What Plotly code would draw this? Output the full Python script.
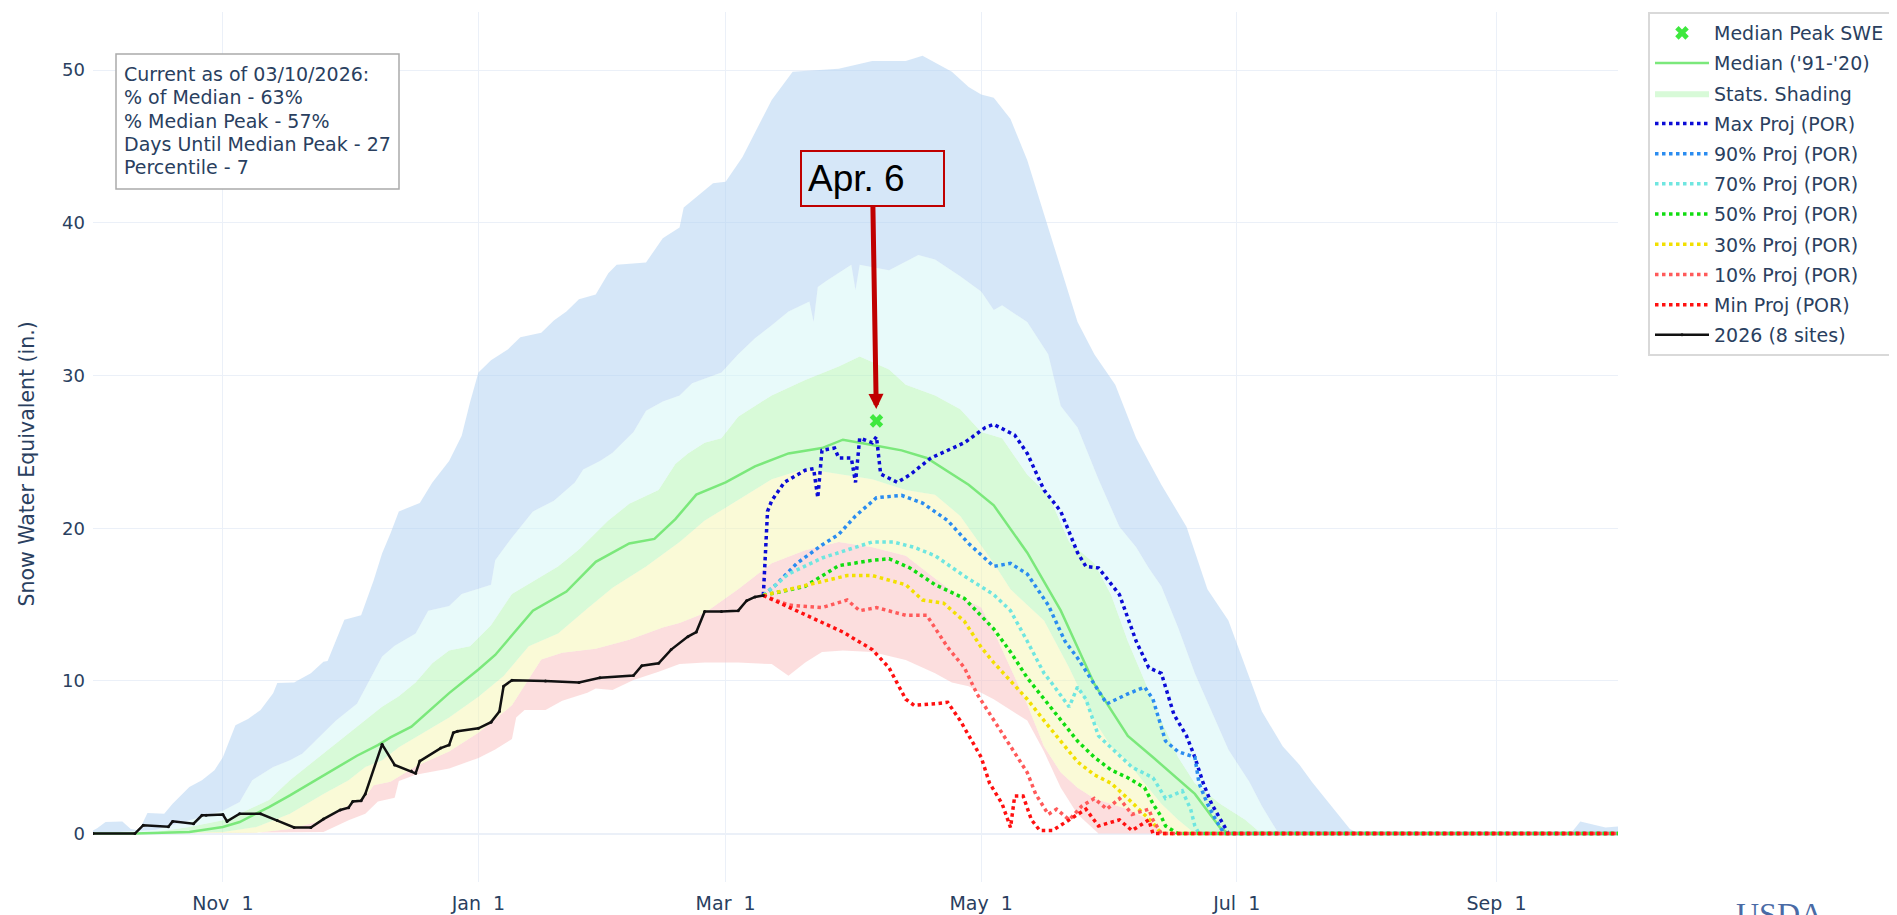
import pandas as pd
import plotly.graph_objects as go

# ---------------- data (day of water year, 0 = Oct 1 2025) ----------------
WY_START = pd.Timestamp("2025-10-01")

obs_day = [0, 10, 12, 18, 19, 24, 26, 27, 31, 32, 35, 40, 44, 48, 52, 55, 59, 61, 62, 64,
           65, 69, 72, 76, 77, 78, 83, 85, 86, 87, 92, 95, 97, 98, 100, 108, 116, 121, 129, 131,
           135, 138, 142, 144, 146, 150, 154, 156, 158, 160]
obs_swe = [0, 0, 0.55, 0.45, 0.8, 0.65, 1.2, 1.2, 1.25, 0.8, 1.3, 1.3, 0.85, 0.4, 0.4, 0.95, 1.55, 1.7, 2.1, 2.15,
           2.6, 5.85, 4.5, 4.1, 3.95, 4.75, 5.6, 5.8, 6.6, 6.7, 6.9, 7.3, 8.0, 9.65, 10.05, 10.0, 9.9, 10.2, 10.35, 11.0,
           11.15, 12.05, 12.9, 13.2, 14.55, 14.55, 14.6, 15.25, 15.5, 15.6]

med_day = [0, 10, 23, 31, 35, 42, 47, 55, 63, 68, 71, 76, 85, 92, 96, 105, 113, 120, 128, 134,
           139, 144, 151, 158, 166, 174, 179, 187, 193, 199, 205, 209, 215, 223, 231, 239, 247, 253, 263, 269,
           271, 364]
med_swe = [0, 0, 0.1, 0.43, 0.76, 1.74, 2.5, 3.8, 5.1, 5.8, 6.3, 7.0, 9.2, 10.75, 11.7, 14.6, 15.85, 17.8, 19.0, 19.3,
           20.6, 22.2, 23.0, 24.05, 24.9, 25.25, 25.8, 25.4, 25.1, 24.6, 23.55, 22.85, 21.5, 18.4, 14.6, 9.8, 6.4, 5.0, 2.6, 0.4,
           0, 0]

max_day = [0, 1, 3, 7, 9, 11, 13, 17, 19, 23, 26, 29, 31, 34, 37, 40, 43, 44, 48, 52,
           55, 56, 60, 64, 67, 69, 71, 73, 78, 81, 85, 88, 90, 92, 95, 99, 102, 107, 110, 113,
           116, 120, 123, 125, 132, 136, 140, 141, 148, 151, 155, 159, 162, 167, 178, 186, 194, 198, 205, 209,
           212, 215, 219, 223, 228, 231, 235, 239, 244, 249, 255, 261, 266, 271, 275, 279, 284, 288, 291, 296,
           300, 302, 352, 353, 355, 361, 364]
max_swe = [0.2, 0.35, 0.76, 0.8, 0.3, 0.2, 1.35, 1.3, 1.96, 3.05, 3.5, 4.15, 5.0, 7.1, 7.5, 8.1, 9.2, 9.87, 9.9, 10.5,
           11.25, 11.3, 14.0, 14.3, 16.6, 18.35, 19.65, 21.1, 21.65, 23.0, 24.4, 26.05, 28.25, 30.2, 31.0, 31.7, 32.5, 32.8, 33.6, 34.2,
           35.0, 35.3, 36.7, 37.25, 37.4, 39.0, 39.7, 41.0, 42.6, 42.7, 44.3, 46.5, 48.05, 49.9, 50.1, 50.6, 50.6, 50.95, 49.9, 48.9,
           48.4, 48.2, 46.8, 44.1, 39.65, 36.9, 33.5, 31.4, 29.4, 25.9, 22.85, 20.1, 16.0, 13.95, 11.0, 8.0, 5.7, 4.5, 3.36, 1.7,
           0.3, 0, 0, 0.1, 0.8, 0.4, 0.47]

p90_day = [0, 15, 23, 31, 35, 38, 43, 47, 50, 55, 58, 63, 65, 69, 72, 77, 80, 85, 88, 95,
           96, 100, 105, 110, 115, 117, 121, 124, 129, 132, 136, 140, 143, 150, 154, 158, 162, 166, 171, 172,
           173, 175, 181, 182, 183, 190, 197, 201, 207, 212, 215, 217, 223, 228, 231, 235, 240, 245, 249, 252,
           255, 259, 263, 267, 271, 276, 279, 283, 364]
p90_swe = [0, 0.25, 0.87, 1.5, 2.07, 3.5, 4.36, 4.8, 5.24, 6.55, 7.4, 8.5, 9.5, 11.6, 12.3, 13.1, 14.6, 14.9, 15.7, 16.3,
           17.9, 19.4, 21.1, 21.8, 23.0, 23.85, 24.4, 24.95, 26.3, 27.7, 28.3, 28.7, 29.5, 30.2, 31.4, 32.45, 33.3, 34.2, 34.85, 33.5,
           35.8, 36.2, 37.25, 35.6, 37.25, 36.9, 37.9, 37.6, 36.5, 35.5, 34.3, 34.6, 33.5, 31.4, 28.0, 26.6, 23.2, 20.1, 18.75, 17.4,
           16.2, 13.5, 10.5, 8.0, 5.5, 3.4, 1.8, 0, 0]

p70_day = [0, 15, 23, 31, 35, 42, 47, 55, 61, 66, 69, 73, 77, 81, 85, 90, 95, 100, 106, 111,
           116, 123, 128, 135, 139, 142, 146, 150, 154, 158, 162, 170, 178, 183, 190, 194, 201, 207, 212, 217,
           223, 228, 233, 239, 243, 247, 251, 255, 259, 263, 269, 275, 278, 364]
p70_swe = [0, 0.1, 0.43, 0.87, 1.3, 2.2, 3.5, 5.24, 6.55, 7.64, 8.3, 9.0, 9.9, 11.15, 12.0, 12.27, 13.65, 15.7, 16.7, 17.5,
           18.6, 20.5, 21.6, 22.5, 24.2, 24.9, 25.6, 25.9, 27.3, 28.0, 28.7, 29.7, 30.6, 31.25, 30.4, 29.4, 28.7, 27.8, 26.3, 25.9,
           23.5, 22.2, 19.1, 17.7, 15.65, 12.6, 10.0, 7.4, 5.0, 3.3, 1.95, 0.9, 0.2, 0]

p30_day = [0, 31, 39, 47, 55, 61, 65, 69, 73, 78, 85, 92, 98, 104, 111, 118, 124, 132, 140, 146,
           154, 162, 170, 178, 186, 194, 201, 207, 215, 219, 227, 233, 239, 243, 247, 251, 255, 259, 263, 364]
p30_swe = [0, 0.1, 0.43, 1.3, 2.6, 3.5, 4.36, 4.8, 5.65, 6.47, 7.6, 8.96, 10.33, 12.27, 13.1, 14.75, 16.1, 17.5, 19.1, 20.5,
           21.85, 23.2, 23.9, 23.55, 23.2, 22.5, 22.2, 20.8, 17.7, 16.0, 13.95, 10.86, 7.4, 5.7, 4.7, 3.3, 1.95, 0.9, 0, 0]

p10_day = [0, 39, 47, 55, 61, 65, 67, 71, 77, 85, 92, 100, 107, 112, 120, 128, 136, 140, 146, 154,
           162, 170, 178, 186, 194, 201, 207, 212, 215, 219, 223, 227, 231, 235, 239, 247, 252, 255, 256, 364]
p10_swe = [0, 0.05, 0.3, 0.87, 1.85, 2.4, 3.16, 3.4, 4.4, 5.37, 6.6, 8.4, 11.4, 11.85, 12.1, 12.7, 13.5, 13.8, 14.45, 16.0,
           17.7, 18.55, 19.1, 18.75, 18.2, 16.7, 15.5, 14.8, 13.25, 10.86, 8.46, 5.7, 4.0, 3.0, 2.3, 1.6, 0.9, 0.2, 0, 0]

min_day = [0, 55, 61, 65, 68, 72, 73, 77, 85, 92, 96, 100, 101, 103, 108, 112, 118, 120, 124, 129,
           135, 140, 146, 154, 162, 166, 170, 174, 179, 186, 194, 201, 205, 209, 215, 223, 227, 231, 235, 239,
           240, 364]
min_swe = [0, 0.1, 0.87, 1.3, 2.1, 2.34, 3.44, 3.85, 4.27, 4.95, 5.5, 6.2, 7.6, 8.1, 8.1, 8.7, 9.23, 9.5, 9.4, 10.06,
           10.6, 11.1, 11.2, 11.2, 11.1, 10.34, 11.2, 11.9, 12.0, 11.9, 11.37, 10.5, 9.9, 9.65, 8.8, 7.4, 5.37, 3.0, 1.26, 0.2,
           0, 0]

maxp_day = [160, 161, 162, 165, 170, 172, 173, 174, 177, 178, 181, 182, 183, 186, 187, 188, 192, 195, 200, 205,
            208, 213, 215, 220, 223, 227, 231, 235, 237, 240, 245, 249, 252, 255, 258, 261, 263, 265, 267, 270,
            271, 364]
maxp_swe = [15.6, 21.1, 21.8, 23.0, 23.8, 23.9, 22.0, 25.1, 25.25, 24.6, 24.6, 23.0, 25.9, 25.6, 26.0, 23.55, 23.0, 23.5, 24.6, 25.25,
            25.6, 26.6, 26.8, 26.1, 24.9, 22.5, 21.1, 18.4, 17.5, 17.4, 15.65, 12.6, 10.86, 10.5, 7.8, 6.4, 5.0, 3.3, 1.95, 0.5,
            0, 0]

p90p_day = [160, 163, 168, 174, 178, 182, 187, 193, 198, 204, 209, 215, 219, 223, 228, 232, 235, 239, 242, 247,
            251, 253, 256, 259, 263, 264, 266, 268, 270, 364]
p90p_swe = [15.6, 16.3, 17.7, 18.9, 19.6, 20.8, 22.0, 22.15, 21.65, 20.5, 19.0, 17.5, 17.7, 17.0, 14.97, 12.6, 11.5, 9.8, 8.5, 9.15,
            9.6, 8.8, 6.06, 5.37, 5.0, 3.3, 1.95, 0.9, 0, 0]

p70p_day = [160, 166, 174, 182, 186, 191, 196, 201, 208, 215, 219, 223, 227, 229, 233, 235, 237, 240, 244, 248,
            253, 256, 260, 262, 263, 264, 364]
p70p_swe = [15.6, 17.0, 18.05, 18.75, 19.1, 19.1, 18.75, 18.2, 16.86, 15.65, 14.6, 12.6, 10.5, 9.8, 8.3, 9.6, 8.8, 6.4, 5.37, 4.35,
            3.66, 2.3, 2.8, 1.6, 0.5, 0, 0]

p50p_day = [160, 170, 178, 186, 190, 195, 201, 208, 215, 219, 223, 227, 231, 235, 239, 243, 247, 251, 253, 255,
            256, 259, 364]
p50p_swe = [15.6, 16.2, 17.55, 17.9, 18.0, 17.4, 16.3, 15.4, 13.4, 11.9, 10.2, 8.8, 7.4, 6.06, 5.0, 4.17, 3.66, 3.0, 1.95, 1.1,
            0.5, 0, 0]

p30p_day = [160, 166, 174, 180, 186, 194, 198, 203, 208, 212, 215, 219, 223, 227, 231, 235, 239, 243, 247, 251,
            253, 255, 364]
p30p_swe = [15.6, 16.0, 16.5, 16.9, 16.9, 16.3, 15.3, 15.1, 13.9, 12.2, 11.2, 10.0, 8.8, 7.4, 6.06, 4.7, 3.85, 3.3, 2.3, 1.26,
            0.7, 0, 0]

p10p_day = [160, 166, 174, 178, 180, 183, 187, 194, 199, 204, 208, 211, 215, 219, 223, 225, 228, 230, 233, 236,
            239, 242, 245, 248, 252, 253, 255, 364]
p10p_swe = [15.6, 14.97, 14.8, 15.1, 15.3, 14.6, 14.8, 14.3, 14.3, 12.2, 10.86, 9.15, 7.4, 5.7, 4.0, 2.6, 1.26, 1.6, 0.9, 1.8,
            2.3, 1.6, 2.3, 1.26, 1.6, 0.9, 0, 0]

minp_day = [160, 165, 170, 176, 179, 186, 190, 194, 196, 201, 204, 207, 209, 212, 214, 217, 219, 220, 222, 224,
            226, 229, 233, 237, 240, 245, 248, 252, 253, 364]
minp_swe = [15.6, 14.97, 14.3, 13.6, 13.2, 12.05, 10.86, 8.8, 8.4, 8.5, 8.6, 7.4, 6.4, 5.0, 3.3, 1.95, 0.4, 2.46, 2.46, 0.9,
            0.2, 0.2, 0.9, 1.6, 0.5, 0.9, 0.2, 0.9, 0, 0]

peak_day = [187]
peak_swe = [27.03]

tick_dates = ["2025-11-01", "2026-01-01", "2026-03-01", "2026-05-01", "2026-07-01", "2026-09-01"]
y_ticks = [0, 10, 20, 30, 40, 50]

info_lines = ["Current as of 03/10/2026:", "% of Median - 63%", "% Median Peak - 57%",
              "Days Until Median Peak - 27", "Percentile - 7"]


def to_dates(days):
    return [WY_START + pd.Timedelta(days=d) for d in days]


# ---------------- layout geometry (figure pixels) ----------------
W, H = 1897, 915
ML, MR, MT, MB = 85, 287, 4, 41
PW, PH = W - ML - MR, H - MT - MB


def px_x(px):
    return (px - ML) / PW


def px_y(py):
    return (H - MB - py) / PH


FONT = "Verdana, DejaVu Sans, sans-serif"
TXT = "#2a3f5f"

fig = go.Figure()

# ---- statistics shading (min -> 10 -> 30 -> 70 -> 90 -> max) ----
fig.add_trace(go.Scatter(x=to_dates(min_day), y=min_swe, mode="lines", line=dict(width=0),
                         showlegend=False, hoverinfo="skip"))
bands = [
    (p10_day, p10_swe, "rgba(249,189,189,0.5)", False, None),
    (p30_day, p30_swe, "rgba(245,245,175,0.5)", False, None),
    (p70_day, p70_swe, "rgba(177,245,177,0.5)", True, "Stats. Shading"),
    (p90_day, p90_swe, "rgba(209,245,245,0.5)", False, None),
    (max_day, max_swe, "rgba(173,207,241,0.5)", False, None),
]
for d, v, col, leg, name in bands:
    fig.add_trace(go.Scatter(x=to_dates(d), y=v, mode="lines", line=dict(width=0),
                             fill="tonexty", fillcolor=col, showlegend=leg, name=name,
                             legendrank=3, legendgroup="g3", hoverinfo="skip"))

# ---- median ----
fig.add_trace(go.Scatter(x=to_dates(med_day), y=med_swe, mode="lines", name="Median ('91-'20)",
                         line=dict(color="#7be87b", width=2.5), legendrank=2, legendgroup="g2"))

# ---- projections ----
proj = [
    (maxp_day, maxp_swe, "#0b0bd6", "Max Proj (POR)"),
    (p90p_day, p90p_swe, "#2a8cf0", "90% Proj (POR)"),
    (p70p_day, p70p_swe, "#6fe6e0", "70% Proj (POR)"),
    (p50p_day, p50p_swe, "#10dd10", "50% Proj (POR)"),
    (p30p_day, p30p_swe, "#f2e000", "30% Proj (POR)"),
    (p10p_day, p10p_swe, "#ff5a5a", "10% Proj (POR)"),
    (minp_day, minp_swe, "#ff1010", "Min Proj (POR)"),
]
for i, (d, v, col, name) in enumerate(proj):
    fig.add_trace(go.Scatter(x=to_dates(d), y=v, mode="lines", name=name,
                             line=dict(color=col, width=3.5, dash="dot"),
                             legendrank=4 + i, legendgroup="p%d" % i))

# ---- current year ----
fig.add_trace(go.Scatter(x=to_dates(obs_day), y=obs_swe, mode="lines+markers", name="2026 (8 sites)",
                         line=dict(color="#111111", width=2.5), marker=dict(size=3, color="#111111"),
                         legendrank=11, legendgroup="g11"))

# ---- median peak ----
fig.add_trace(go.Scatter(x=to_dates(peak_day), y=peak_swe, mode="markers", name="Median Peak SWE",
                         marker=dict(symbol="x", size=12, color="#3ee83e", line=dict(width=0)),
                         legendrank=1, legendgroup="g1"))

fig.update_layout(
    width=W, height=H,
    template="plotly_white",
    margin=dict(l=ML, r=MR, t=MT, b=MB, autoexpand=False),
    font=dict(family=FONT, size=19, color=TXT),
    plot_bgcolor="white", paper_bgcolor="white",
    legend=dict(x=px_x(1640), y=1, xanchor="left", yanchor="top", bgcolor="white",
                bordercolor="#d9d9d9", borderwidth=2, font=dict(size=19),
                traceorder="grouped", tracegroupgap=2.5, itemwidth=54),
    showlegend=True,
)
fig.update_xaxes(type="date", range=[WY_START, WY_START + pd.Timedelta(days=364)],
                 tickvals=to_dates([(pd.Timestamp(t) - WY_START).days for t in tick_dates]),
                 tickformat="%b %e", showgrid=True, gridcolor="#ebf0f8", automargin=False,
                 tickfont=dict(size=19), zeroline=False, ticklabelstandoff=8)
fig.update_yaxes(range=[-3.17, 53.81], tickvals=y_ticks, showgrid=True, gridcolor="#ebf0f8",
                 zeroline=True, zerolinecolor="#ebf0f8", zerolinewidth=2, automargin=False,
                 tickfont=dict(size=18), ticklabelstandoff=7)

# y-axis title
fig.add_annotation(xref="paper", yref="paper", x=px_x(19), y=px_y(456.6), xanchor="center", yanchor="middle",
                   text="Snow Water Equivalent (in.)", textangle=-90, showarrow=False,
                   font=dict(size=20.5, color=TXT))

# info box
fig.add_shape(type="rect", xref="paper", yref="paper", x0=px_x(108), x1=px_x(391), y0=px_y(181), y1=px_y(46),
              line=dict(color="#aaaaaa", width=1.5), fillcolor="white", layer="above")
for i, line in enumerate(info_lines):
    fig.add_annotation(xref="paper", yref="paper", x=px_x(113.5), y=px_y(66 + 23.3 * i),
                       xanchor="left", yanchor="middle", text=line, showarrow=False,
                       font=dict(size=19, color=TXT))

# Apr. 6 call-out
fig.add_annotation(x=to_dates(peak_day)[0], y=peak_swe[0], xref="x", yref="y",
                   text="Apr. 6", align="left", width=129, showarrow=True,
                   ax=-4, ay=-242, arrowhead=2, arrowsize=0.6, arrowwidth=5, arrowcolor="#c00000",
                   standoff=12, bordercolor="#c00000", borderwidth=2, borderpad=6,
                   bgcolor="rgba(0,0,0,0)",
                   font=dict(family="Liberation Sans, Arial, sans-serif", size=37, color="black"))

fig.add_annotation(xref="paper", yref="paper", x=px_x(1771), y=px_y(886), xanchor="center", yanchor="top",
                   text="USDA", showarrow=False,
                   font=dict(family="Liberation Serif, serif", size=32, color="#4a6aa5"))

fig.write_html("out.html")
